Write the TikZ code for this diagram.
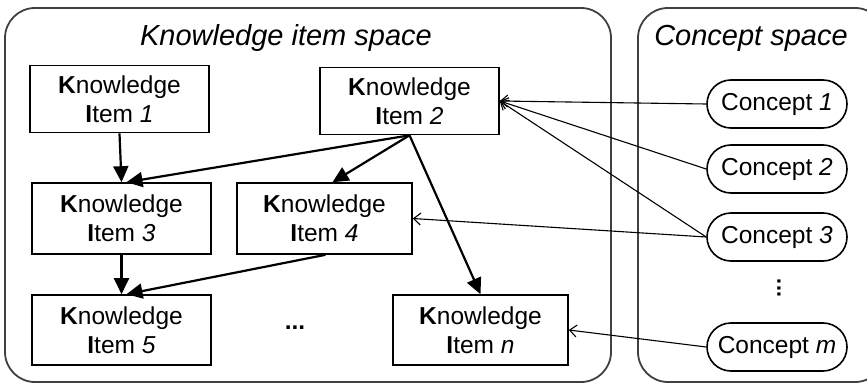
\documentclass[tikz,border=0pt]{standalone}
\usepackage{fontspec}
\setmainfont{Liberation Sans}
\usetikzlibrary{arrows.meta}
\begin{document}
\begin{tikzpicture}[x=1pt,y=-1pt,
  container/.style={draw=black!75,line width=1.8pt,rounded corners=30pt},
  item/.style={draw,line width=1.6pt,minimum width=179pt,minimum height=67pt,
    align=center,font=\fontsize{24.5}{29}\selectfont,inner sep=0pt},
  concept/.style={draw,line width=1.6pt,rounded corners=24pt,minimum width=140pt,
    minimum height=48pt,font=\fontsize{24.5}{29}\selectfont,inner sep=0pt},
  title/.style={font=\fontsize{29}{34}\selectfont\itshape},
  link/.style={line width=2.2pt,-{Triangle[length=16pt,width=15pt]}},
  ref/.style={line width=1.1pt,-{Straight Barb[length=7pt,width=12pt]}}]
\useasboundingbox (0,0) rectangle (867,385);

% the two spaces
\draw[container] (5,8) rectangle (611,382);
\draw[container] (638,8) rectangle (885,382);
\node[title] (kt) at (286,38) {Knowledge item space};
\node[title] (ct) at (751,38) {Concept space};

% knowledge items
\node[item] (i1) at (119.5,99)  {\textbf{K}nowledge\\\textbf{I}tem \textit{1}};
\node[item] (i2) at (409.5,101) {\textbf{K}nowledge\\\textbf{I}tem \textit{2}};
\node[item,minimum height=71pt] (i3) at (121.5,218.5) {\textbf{K}nowledge\\\textbf{I}tem \textit{3}};
\node[item,minimum height=71pt,minimum width=175pt] (i4) at (324.5,218.5) {\textbf{K}nowledge\\\textbf{I}tem \textit{4}};
\node[item,minimum height=70pt] (i5) at (121.5,330) {\textbf{K}nowledge\\\textbf{I}tem \textit{5}};
\node[item,minimum height=70pt,minimum width=175pt] (in) at (480.5,330) {\textbf{K}nowledge\\\textbf{I}tem \textit{n}};
\node[font=\fontsize{24.5}{29}\selectfont\bfseries] (dots) at (295,328) {...};

% concepts
\node[concept] (c1) at (777,104) {Concept \textit{1}};
\node[concept] (c2) at (777,169) {Concept \textit{2}};
\node[concept] (c3) at (777,237) {Concept \textit{3}};
\node[concept] (cm) at (777,347) {Concept \textit{m}};
\node[font=\fontsize{22}{26}\selectfont\bfseries,rotate=90] (vdots) at (779,288) {...};

% links between knowledge items
\draw[link] (i1.south) -- (i3.north);
\draw[link] (i2.south) -- ([xshift=5pt]i3.north);
\draw[link] (i2.south) -- ([xshift=8pt]i4.north);
\draw[link] (i2.south) -- (in.north);
\draw[link] (i3.south) -- (i5.north);
\draw[link] ([xshift=1pt]i4.south) -- ([xshift=5pt]i5.north);

% concept references
\draw[ref] (c1.west) -- (i2.east);
\draw[ref] (c2.west) -- (i2.east);
\draw[ref] (c3.west) -- (i2.east);
\draw[ref] (c3.west) -- (i4.east);
\draw[ref] (cm.west) -- (in.east);
\end{tikzpicture}
\end{document}
